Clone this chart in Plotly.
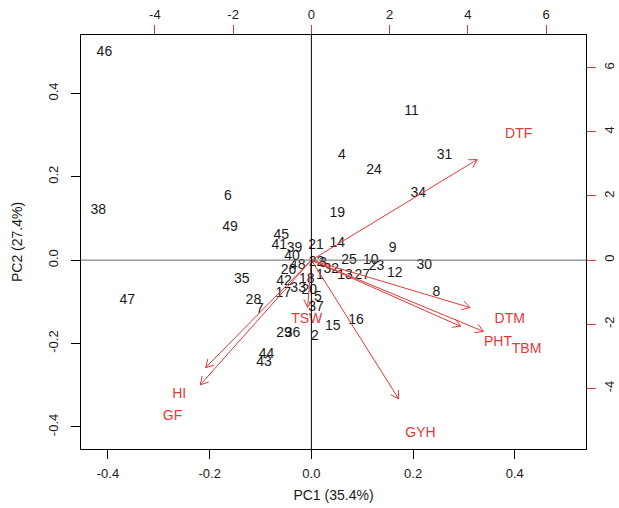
import math
import plotly.graph_objects as go

# ---------------- data ----------------
genotypes = [str(i) for i in range(1, 50)]
pc1 = [0.017, 0.007, 0.023, 0.060, 0.013, -0.164, -0.101, 0.246, 0.160, 0.117,
       0.197, 0.164, 0.066, 0.051, 0.042, 0.088, -0.055, -0.009, 0.051, -0.004,
       0.009, 0.010, 0.128, 0.123, 0.074, -0.045, 0.100, -0.114, -0.054, 0.222,
       0.262, 0.039, -0.026, 0.210, -0.137, -0.037, 0.009, -0.419, -0.033, -0.038,
       -0.063, -0.054, -0.093, -0.088, -0.059, -0.407, -0.362, -0.027, -0.160]
pc2 = [-0.036, -0.182, -0.007, 0.252, -0.089, 0.152, -0.118, -0.078, 0.027, 0.000,
       0.356, -0.032, -0.036, 0.041, -0.158, -0.145, -0.081, -0.046, 0.113, -0.073,
       0.034, -0.006, -0.016, 0.215, -0.001, -0.026, -0.037, -0.097, -0.176, -0.013,
       0.252, -0.022, -0.069, 0.161, -0.046, -0.176, -0.113, 0.120, 0.029, 0.008,
       0.034, -0.052, -0.246, -0.226, 0.058, 0.497, -0.096, -0.014, 0.079]

traits = ["DTF", "DTM", "PHT", "TBM", "GYH", "TSW", "HI", "GF"]
load1 = [5.30, 5.07, 4.77, 5.50, 2.79, -0.12, -3.38, -3.55]
load2 = [3.92, -1.85, -2.58, -2.78, -5.41, -1.84, -4.19, -4.86]

x_ticks = [-0.4, -0.2, 0.0, 0.2, 0.4]
x_ticklabels = ["-0.4", "-0.2", "0.0", "0.2", "0.4"]
y_ticks = [-0.4, -0.2, 0.0, 0.2, 0.4]
y_ticklabels = ["-0.4", "-0.2", "0.0", "0.2", "0.4"]
sec_ticks = [-4, -2, 0, 2, 4, 6]
sec_ticklabels = ["-4", "-2", "0", "2", "4", "6"]

x_title = "PC1 (35.4%)"
y_title = "PC2 (27.4%)"

# ---------------- styling / geometry ----------------
W, H = 619, 508
ML, MR, MT, MB = 81, 33, 35, 59
RMIN, RMAX = -0.453, 0.540
SCALE = 13.0
ARROW_FRAC = 0.8
RED = "#DF3A3A"
FONT = "Liberation Sans, Arial, sans-serif"

srmin, srmax = RMIN * SCALE, RMAX * SCALE
plot_w = W - ML - MR
plot_h = H - MT - MB
ppx = plot_w / (srmax - srmin)   # px per secondary unit (x)
ppy = plot_h / (srmax - srmin)   # px per secondary unit (y)

fig = go.Figure()

# genotype labels
fig.add_trace(go.Scatter(
    x=pc1, y=pc2, text=genotypes, mode="text",
    textfont=dict(family=FONT, size=14, color="#1a1a1a"),
    textposition="middle center", hoverinfo="text",
    xaxis="x", yaxis="y", showlegend=False))

# arrows (shaft + open V head) in secondary coords
ax_x, ax_y = [], []
head_len = 9.0
ang = math.radians(30)
for lx, ly in zip(load1, load2):
    tx, ty = lx * ARROW_FRAC, ly * ARROW_FRAC
    ax_x += [0, tx, None]
    ax_y += [0, ty, None]
    dxp, dyp = tx * ppx, ty * ppy
    L = math.hypot(dxp, dyp)
    ux, uy = dxp / L, dyp / L
    for s in (1, -1):
        ca, sa = math.cos(s * ang), math.sin(s * ang)
        rx = ux * ca - uy * sa
        ry = ux * sa + uy * ca
        hx = tx - rx * head_len / ppx
        hy = ty - ry * head_len / ppy
        ax_x += [tx, hx, None]
        ax_y += [ty, hy, None]

fig.add_trace(go.Scatter(
    x=ax_x, y=ax_y, mode="lines",
    line=dict(color=RED, width=1), hoverinfo="skip",
    xaxis="x2", yaxis="y2", showlegend=False))

fig.add_trace(go.Scatter(
    x=load1, y=load2, text=traits, mode="text",
    textfont=dict(family=FONT, size=14, color=RED),
    textposition="middle center", hoverinfo="text",
    xaxis="x2", yaxis="y2", showlegend=False))

# zero lines
fig.add_shape(type="line", xref="paper", yref="y", x0=0, x1=1, y0=0, y1=0,
              line=dict(color="#666666", width=1))
fig.add_shape(type="line", xref="x", yref="paper", x0=0, x1=0, y0=0, y1=1,
              line=dict(color="black", width=1))

tickfont = dict(family=FONT, size=13, color="#1a1a1a")
common = dict(showgrid=False, zeroline=False, showline=True, linecolor="black",
              linewidth=1, ticks="outside", ticklen=9, tickwidth=1,
              automargin=False)

fig.update_layout(
    width=W, height=H,
    margin=dict(l=ML, r=MR, t=MT, b=MB, autoexpand=False),
    paper_bgcolor="white", plot_bgcolor="white",
    font=dict(family=FONT, size=13, color="#1a1a1a"),
    xaxis=dict(range=[RMIN, RMAX], tickvals=x_ticks, ticktext=x_ticklabels,
               tickcolor="black", tickfont=tickfont, mirror=True,
               ticklabelstandoff=3,
               title=dict(text=x_title, font=dict(family=FONT, size=14), standoff=10),
               **common),
    yaxis=dict(range=[RMIN, RMAX], tickvals=y_ticks, ticktext=y_ticklabels,
               tickcolor="black", tickfont=tickfont, tickangle=-90, mirror=True,
               ticklabelstandoff=8,
               title=dict(text=y_title, font=dict(family=FONT, size=14), standoff=19),
               **common),
    xaxis2=dict(range=[srmin, srmax], overlaying="x", side="top",
                tickvals=sec_ticks, ticktext=sec_ticklabels,
                tickcolor=RED, tickfont=tickfont, ticklabelstandoff=1, **common),
    yaxis2=dict(range=[srmin, srmax], overlaying="y", side="right",
                tickvals=sec_ticks, ticktext=sec_ticklabels,
                tickcolor=RED, tickfont=tickfont, tickangle=-90,
                ticklabelstandoff=2, **common),
)

fig.write_html("out.html",
               config={"displayModeBar": False},
               post_script="document.body.style.margin='0';document.body.style.padding='0';")
